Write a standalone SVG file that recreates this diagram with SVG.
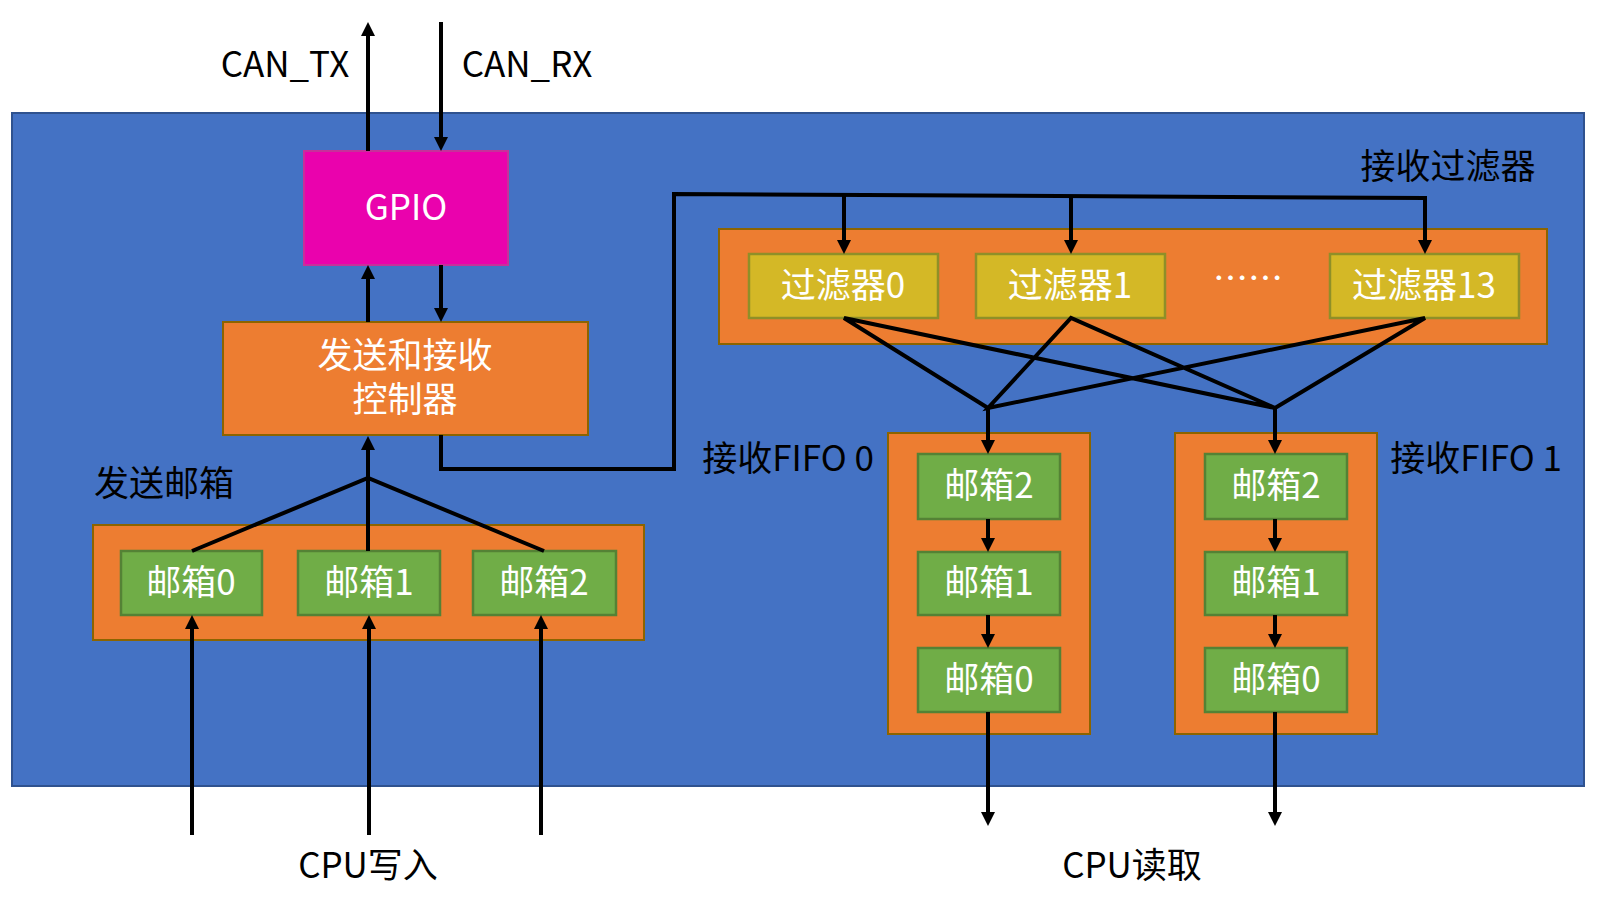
<svg xmlns="http://www.w3.org/2000/svg" width="1599" height="912" viewBox="0 0 1599 912">
<defs>
<style>
.bg{fill:#4472C4;stroke:#2F528F;stroke-width:2}
.gpio{fill:#EA02AD;stroke:#C7309A;stroke-width:2}
.org{fill:#ED7D31;stroke:#8C6400;stroke-width:2}
.grn{fill:#70AD47;stroke:#548235;stroke-width:2.5}
.ylw{fill:#D4B826;stroke:#8F8F28;stroke-width:2.5}
text{font-family:"Noto Sans CJK SC","Noto Sans",sans-serif;text-anchor:middle;dominant-baseline:central}
.w{fill:#FFFFFF;font-size:35px}
.k{fill:#000000;font-size:35px}
.c{fill:none;stroke:#000;stroke-width:4}
.a{fill:none;stroke:#000;stroke-width:4;marker-end:url(#arr)}
</style>
<marker id="arr" viewBox="0 0 14 14" markerWidth="14" markerHeight="14" refX="10" refY="7" orient="auto" markerUnits="userSpaceOnUse">
<path d="M0,0 L14,7 L0,14 z" fill="#000"/>
</marker>
</defs>
<rect class="bg" x="12" y="113" width="1572" height="673"/>
<g id="label-can-tx"><text class="k" x="285" y="61">CAN_TX</text></g>
<g id="label-can-rx"><text class="k" x="527" y="61">CAN_RX</text></g>
<g id="gpio"><rect class="gpio" x="304" y="151" width="204" height="114"/><text class="w" x="406" y="204">GPIO</text></g>
<g id="controller"><rect class="org" x="223" y="322" width="365" height="113"/><text class="w" x="405" y="352">发送和接收</text><text class="w" x="405" y="396">控制器</text></g>
<g id="tx-mailboxes-label"><text class="k" x="164" y="480">发送邮箱</text></g>
<g id="tx-mailboxes"><rect class="org" x="93" y="525" width="551" height="115"/></g>
<g id="tx-mb0"><rect class="grn" x="121" y="551" width="141" height="64"/><text class="w" x="191" y="579">邮箱0</text></g>
<g id="tx-mb1"><rect class="grn" x="298" y="551" width="142" height="64"/><text class="w" x="369" y="579">邮箱1</text></g>
<g id="tx-mb2"><rect class="grn" x="473" y="551" width="143" height="64"/><text class="w" x="544" y="579">邮箱2</text></g>
<g id="filters-label"><text class="k" x="1448" y="163">接收过滤器</text></g>
<g id="filters"><rect class="org" x="719" y="229" width="828" height="115"/></g>
<g id="filter0"><rect class="ylw" x="749" y="254" width="189" height="64"/><text class="w" x="843" y="282">过滤器0</text></g>
<g id="filter1"><rect class="ylw" x="976" y="254" width="189" height="64"/><text class="w" x="1070" y="282">过滤器1</text></g>
<g id="filter-dots"><text class="w" x="1248" y="275">……</text></g>
<g id="filter13"><rect class="ylw" x="1330" y="254" width="189" height="64"/><text class="w" x="1424" y="282">过滤器13</text></g>
<g id="fifo0-label"><text class="k" x="788" y="455">接收FIFO 0</text></g>
<g id="fifo0"><rect class="org" x="888" y="433" width="202" height="301"/></g>
<g id="fifo0-mb2"><rect class="grn" x="918" y="454" width="142" height="65"/><text class="w" x="989" y="482">邮箱2</text></g>
<g id="fifo0-mb1"><rect class="grn" x="918" y="552" width="142" height="63"/><text class="w" x="989" y="579">邮箱1</text></g>
<g id="fifo0-mb0"><rect class="grn" x="918" y="648" width="142" height="64"/><text class="w" x="989" y="676">邮箱0</text></g>
<g id="fifo1-label"><text class="k" x="1476" y="455">接收FIFO 1</text></g>
<g id="fifo1"><rect class="org" x="1175" y="433" width="202" height="301"/></g>
<g id="fifo1-mb2"><rect class="grn" x="1205" y="454" width="142" height="65"/><text class="w" x="1276" y="482">邮箱2</text></g>
<g id="fifo1-mb1"><rect class="grn" x="1205" y="552" width="142" height="63"/><text class="w" x="1276" y="579">邮箱1</text></g>
<g id="fifo1-mb0"><rect class="grn" x="1205" y="648" width="142" height="64"/><text class="w" x="1276" y="676">邮箱0</text></g>
<g id="label-cpu-write"><text class="k" x="368" y="862">CPU写入</text></g>
<g id="label-cpu-read"><text class="k" x="1132" y="862">CPU读取</text></g>
<g id="connectors">
<line class="a" x1="368" y1="151" x2="368" y2="26"/>
<line class="a" x1="441" y1="22" x2="441" y2="147"/>
<line class="a" x1="368" y1="322" x2="368" y2="269"/>
<line class="a" x1="441" y1="265" x2="441" y2="318"/>
<polyline class="c" points="192,551 368,478 544,551"/>
<line class="a" x1="368" y1="551" x2="368" y2="440"/>
<line class="a" x1="192" y1="835" x2="192" y2="619"/>
<line class="a" x1="369" y1="835" x2="369" y2="619"/>
<line class="a" x1="541" y1="835" x2="541" y2="619"/>
<polyline class="c" points="441,435 441,469 674,469 674,194 1425,198"/>
<line class="a" x1="844" y1="195" x2="844" y2="250"/>
<line class="a" x1="1071" y1="196" x2="1071" y2="250"/>
<line class="a" x1="1425" y1="196" x2="1425" y2="250"/>
<polyline class="c" points="988,408 844,318 1275,408 1071,318 988,408 1425,318 1275,408"/>
<line class="a" x1="988" y1="406" x2="988" y2="450"/>
<line class="a" x1="1275" y1="406" x2="1275" y2="450"/>
<line class="a" x1="988" y1="519" x2="988" y2="548"/>
<line class="a" x1="988" y1="615" x2="988" y2="644"/>
<line class="a" x1="1275" y1="519" x2="1275" y2="548"/>
<line class="a" x1="1275" y1="615" x2="1275" y2="644"/>
<line class="a" x1="988" y1="712" x2="988" y2="822"/>
<line class="a" x1="1275" y1="712" x2="1275" y2="822"/>
</g>
</svg>
